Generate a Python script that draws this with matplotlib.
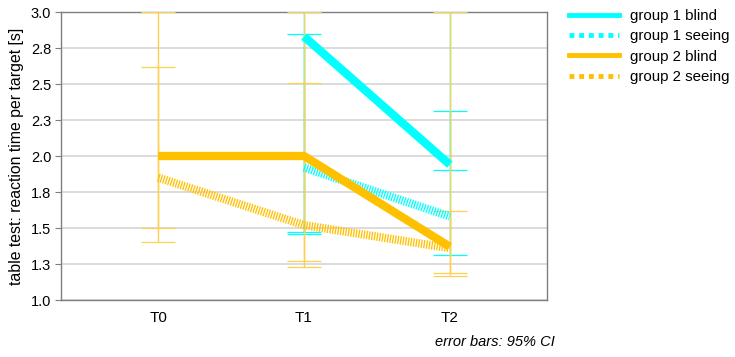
import matplotlib
matplotlib.use("Agg")
import matplotlib.pyplot as plt
from matplotlib.lines import Line2D
import numpy as np

plt.rcParams['font.family'] = ['Liberation Sans', 'DejaVu Sans']

categories = ["T0", "T1", "T2"]
series_names = ["group 1 blind", "group 1 seeing", "group 2 blind", "group 2 seeing"]
# means (None = missing)
g1_blind = [None, 2.83, 1.94]
g1_seeing = [None, 1.92, 1.58]
g2_blind = [2.00, 2.00, 1.37]
g2_seeing = [1.85, 1.52, 1.36]
# 95% CI bounds
g1_blind_lo = [None, 1.46, 1.90]
g1_blind_hi = [None, 3.00, 3.00]
g1_seeing_lo = [None, 1.475, 1.31]
g1_seeing_hi = [None, 2.85, 2.31]
g2_blind_lo = [1.40, 1.23, 1.17]
g2_blind_hi = [3.00, 3.00, 3.00]
g2_seeing_lo = [1.50, 1.27, 1.19]
g2_seeing_hi = [2.62, 2.51, 1.62]
ytick_vals = [1.0, 1.25, 1.5, 1.75, 2.0, 2.25, 2.5, 2.75, 3.0]
ytick_labels = ["1.0", "1.3", "1.5", "1.8", "2.0", "2.3", "2.5", "2.8", "3.0"]

CYAN = "#00FFFF"
ORANGE = "#FFC000"
ORANGE_EB = "#FFD050"

fig = plt.figure(figsize=(7.35, 3.57), dpi=100)
ax = fig.add_axes([61/735, 1-300/357, (547-61)/735, (300-12)/357])

x = np.arange(len(categories))

def arr(v):
    return np.array([np.nan if a is None else a for a in v], dtype=float)

def ebar(mean, lo, hi, color, z):
    m, l, h = arr(mean), arr(lo), arr(hi)
    ok = ~np.isnan(m)
    ax.errorbar(x[ok], m[ok], yerr=[m[ok]-l[ok], h[ok]-m[ok]], fmt='none',
                ecolor=color, elinewidth=1.0, capsize=12.5, capthick=0.9, zorder=z)

ebar(g1_blind, g1_blind_lo, g1_blind_hi, CYAN, 2)
ebar(g1_seeing, g1_seeing_lo, g1_seeing_hi, CYAN, 2)
ebar(g2_seeing, g2_seeing_lo, g2_seeing_hi, ORANGE_EB, 3)
ebar(g2_blind, g2_blind_lo, g2_blind_hi, ORANGE_EB, 3)

lw = 6.0
d = 0.95 / lw
ax.plot(x, arr(g1_seeing), color=CYAN, lw=lw, linestyle=(0, (d, d)), dash_capstyle='butt', zorder=4)
ax.plot(x, arr(g2_seeing), color=ORANGE, lw=lw, linestyle=(0, (d, d)), dash_capstyle='butt', zorder=4)
ax.plot(x, arr(g1_blind), color=CYAN, lw=lw, solid_capstyle='butt', zorder=5)
ax.plot(x, arr(g2_blind), color=ORANGE, lw=lw, solid_capstyle='butt', zorder=6)

ax.set_xlim(-2/3, 2 + 2/3)
ax.set_ylim(1.0, 3.0)
ax.set_xticks(x)
ax.set_xticklabels(categories, fontsize=11)
ax.set_yticks(ytick_vals)
ax.set_yticklabels(ytick_labels, fontsize=10.5)
ax.tick_params(axis='x', length=0, pad=8)
ax.tick_params(axis='y', length=4, color='#7f7f7f', pad=3)
ax.yaxis.grid(True, color='#d9d9d9', lw=1.3)
ax.set_axisbelow(True)
for s in ax.spines.values():
    s.set_color('#7f7f7f')
    s.set_linewidth(1.0)
ax.set_ylabel("table test: reaction time per target [s]", fontsize=11.4, labelpad=5)

handles = [
    Line2D([], [], color=CYAN, lw=3.5),
    Line2D([], [], color=CYAN, lw=3.5, linestyle=(0, (1, 1)), dash_capstyle='butt'),
    Line2D([], [], color=ORANGE, lw=3.5),
    Line2D([], [], color=ORANGE, lw=3.5, linestyle=(0, (1, 1)), dash_capstyle='butt'),
]
fig.legend(handles, series_names, loc='upper left', bbox_to_anchor=(563/735, 1-3/357),
           frameon=False, fontsize=10.8, handlelength=3.3, handletextpad=0.8,
           labelspacing=0.42, borderaxespad=0)

fig.text(555/735, 1-342/357, "error bars: 95% CI", ha='right', va='center',
         fontsize=10.5, style='italic')

fig.savefig("out.png", dpi=100)
